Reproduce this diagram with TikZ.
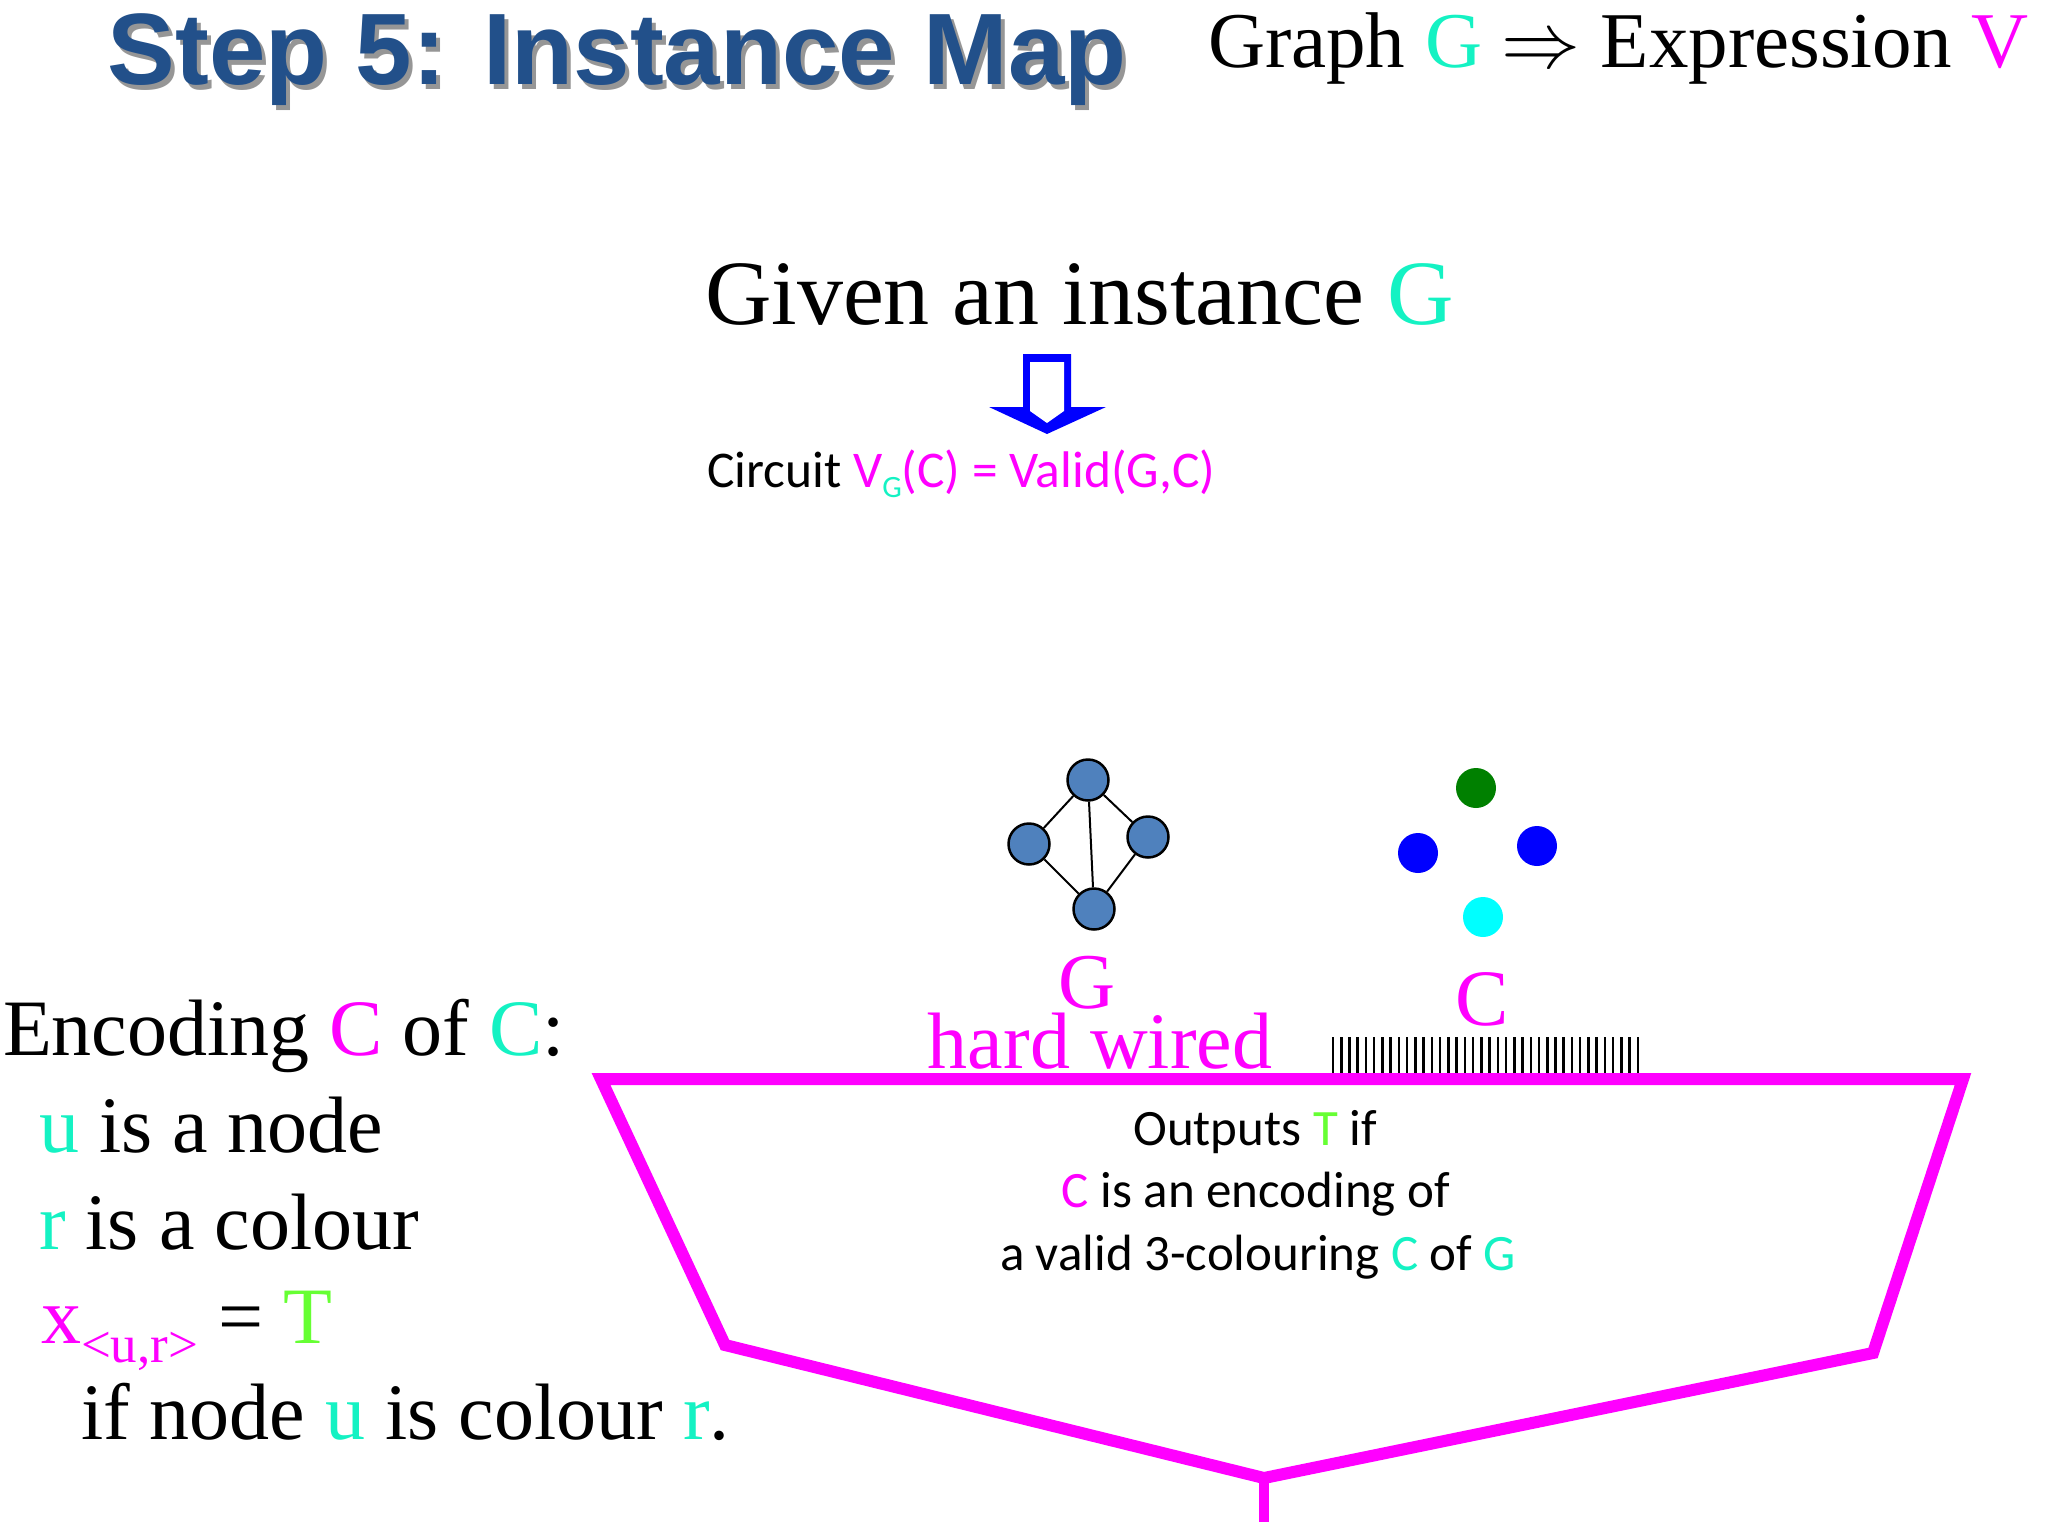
\documentclass[tikz,border=0pt]{standalone}
\usepackage{graphicx}
\usepackage{fontspec}
\setmainfont{Liberation Serif}
\newfontfamily\calfont{Carlito}
\newfontfamily\arialfont{Liberation Sans}
\definecolor{titleblue}{RGB}{34,80,138}
\definecolor{shadowgray}{RGB}{150,150,150}
\definecolor{teal2}{RGB}{20,242,195}
\definecolor{tgreen}{RGB}{102,255,51}
\definecolor{mag}{RGB}{255,0,255}
\definecolor{nodeblue}{RGB}{79,129,189}
\definecolor{dotgreen}{RGB}{0,128,0}
\definecolor{dotblue}{RGB}{0,0,255}
\definecolor{dotcyan}{RGB}{0,255,255}
\newcommand\setfs[1]{\fontsize{#1}{#1}\selectfont}
\newcommand\titletext{Step 5: Instance Map}
\begin{document}
\begin{tikzpicture}[x=1pt,y=-1pt,
  txt/.style={inner sep=0pt, outer sep=0pt},
  gnode/.style={circle, draw=black, line width=2.5pt, fill=nodeblue, minimum size=41pt, inner sep=0pt},
  cdot/.style={circle, minimum size=40pt, inner sep=0pt},
  gedge/.style={line width=2pt, black},
  funnel/.style={draw=mag, line width=12pt, line join=miter},
  combline/.style={line width=2.5pt, black}]
\useasboundingbox[fill=white] (0,0) rectangle (2048,1536);

% title with shadow (single node)
\node[txt, anchor=base] (title) at (617,85) {\arialfont\bfseries\setfs{101.5}\rlap{\kern4pt\raisebox{-5pt}{\textcolor{shadowgray}{\titletext}}}\textcolor{titleblue}{\titletext}};

\node[txt, anchor=base west] (graphexpr) at (1208,68) {\setfs{79}Graph \textcolor{teal2}{G} {\setfs{10}\scalebox{7.9}{$\Rightarrow$}} Expression \textcolor{mag}{V}};

\node[txt, anchor=base west] (given) at (705,324) {\setfs{92}Given an instance \textcolor{teal2}{G}};

% hollow arrow
\fill[blue] (1023,354) -- (1071,354) -- (1071,407) -- (1106,407) -- (1047,434) -- (989,407) -- (1023,407) -- cycle;
\fill[white] (1030,362) -- (1064,362) -- (1064,411) -- (1047,423) -- (1030,411) -- cycle;

\node[txt, anchor=base west] (circuit) at (707,487) {\calfont\setfs{51.5}Circuit \textcolor{mag}{V}\raisebox{-10pt}{\textcolor{teal2}{\setfs{31}G}}\textcolor{mag}{(C) = Valid(G,C)}};

% graph G
\node[gnode] (ga) at (1088,780) {};
\node[gnode] (gb) at (1029,844) {};
\node[gnode] (gc) at (1148,837) {};
\node[gnode] (gd) at (1094,909) {};
\draw[gedge] (ga) -- (gb);
\draw[gedge] (ga) -- (gc);
\draw[gedge] (ga) -- (gd);
\draw[gedge] (gb) -- (gd);
\draw[gedge] (gc) -- (gd);

% colouring C
\node[cdot, fill=dotgreen] (ca) at (1476,788) {};
\node[cdot, fill=dotblue] (cb) at (1418,853) {};
\node[cdot, fill=dotblue] (cc) at (1537,846) {};
\node[cdot, fill=dotcyan] (cd) at (1483,917) {};

\node[txt, anchor=base, text=mag] (glabel) at (1087,1008) {\setfs{79}G};
\node[txt, anchor=base, text=mag] (hardwired) at (1100,1068) {\setfs{80}hard wired};
\node[txt, anchor=base, text=mag] (clabel) at (1482,1025) {\setfs{80}C};

% comb of input wires
\foreach \i in {0,...,37} {
  \draw[combline] ({1333+8.24*\i},1037) -- ({1333+8.24*\i},1073);
}

% funnel
\coordinate (tl) at (601,1079);
\coordinate (tr) at (1963,1079);
\coordinate (bl) at (725,1345);
\coordinate (br) at (1873,1353);
\coordinate (bot) at (1264,1478);
\coordinate (out) at (1264,1522);
\draw[funnel] (tl) -- (tr) -- (br) -- (bot) -- (bl) -- cycle;
\draw[draw=mag, line width=10pt] (bot) -- (out);

\node[txt, anchor=base] (o1) at (1255,1145) {\calfont\setfs{51}Outputs \textcolor{tgreen}{T} if};
\node[txt, anchor=base] (o2) at (1256,1207) {\calfont\setfs{51}\textcolor{mag}{C} is an encoding of};
\node[txt, anchor=base] (o3) at (1258,1270) {\calfont\setfs{51}a valid 3-colouring \textcolor{teal2}{C} of \textcolor{teal2}{G}};

% left text
\node[txt, anchor=base west] (l1) at (3,1055) {\setfs{80}Encoding \textcolor{mag}{C} of \textcolor{teal2}{C}:};
\node[txt, anchor=base west] (l2) at (39,1152) {\setfs{80}\textcolor{teal2}{u} is a node};
\node[txt, anchor=base west] (l3) at (39,1249) {\setfs{80}\textcolor{teal2}{r} is a colour};
\node[txt, anchor=base west] (l4) at (41,1343) {\setfs{80}\textcolor{mag}{x\raisebox{-19pt}{\setfs{53}<u,r>}} = \textcolor{tgreen}{T}};
\node[txt, anchor=base west] (l5) at (81,1439) {\setfs{80}if node \textcolor{teal2}{u} is colour \textcolor{teal2}{r}.};
\end{tikzpicture}
\end{document}
